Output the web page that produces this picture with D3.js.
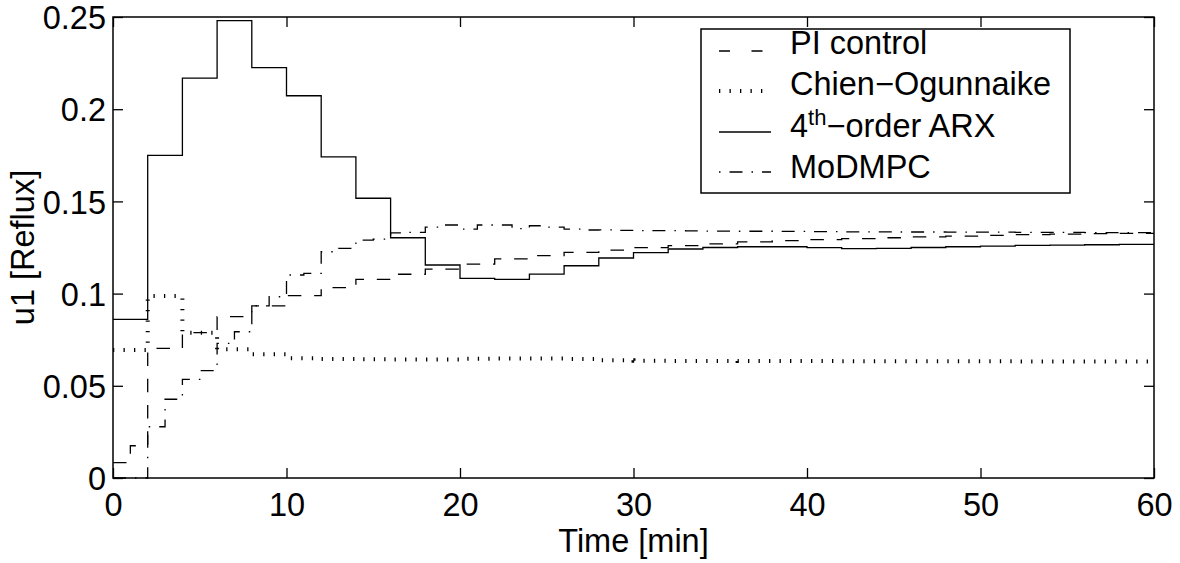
<!DOCTYPE html>
<html><head><meta charset="utf-8">
<script src="https://cdn.jsdelivr.net/npm/d3@7"></script>
<style>
body{margin:0;background:#fff}
svg{display:block}
text{font-family:"Liberation Sans",Arial,Helvetica,sans-serif;fill:#000}
</style>
</head><body>
<svg id="chart" width="1180" height="563"></svg>
<script>
// ---------------- data ----------------
const xTicks = [0, 10, 20, 30, 40, 50, 60];
const xTickLabels = ["0", "10", "20", "30", "40", "50", "60"];
const yTicks = [0, 0.05, 0.1, 0.15, 0.2, 0.25];
const yTickLabels = ["0", "0.05", "0.1", "0.15", "0.2", "0.25"];
const seriesNames = ["PI control", "Chien\u2212Ogunnaike", "4th\u2212order ARX", "MoDMPC"];
const xLabel = "Time [min]";
const yLabel = "u1 [Reflux]";
const tEnd = 60;

// PI control (step start times / held values)
const piTime  = [0, 1, 2, 4, 6, 8, 10, 12, 14, 16, 18, 20, 22, 24, 26, 28, 30, 32, 34, 36, 38, 40, 42, 44, 46, 48, 50, 52, 54, 56, 58];
const piValue = [0.0083, 0.0175, 0.0703, 0.0788, 0.0875, 0.0933, 0.0989, 0.1032, 0.1077, 0.1105, 0.1133, 0.1160, 0.1188, 0.1206, 0.1224, 0.1236, 0.1249, 0.1260, 0.1270, 0.1280, 0.1287, 0.1293, 0.1298, 0.1303, 0.1308, 0.1312, 0.1316, 0.1320, 0.1323, 0.1325, 0.1327];

// Chien-Ogunnaike
const coTime  = [0, 2, 4, 6, 8, 10, 12, 14, 16, 18, 20, 22, 24, 26, 28, 30, 32, 34, 36, 38, 40, 42, 44, 46, 48, 50, 52, 54, 56, 58];
const coValue = [0.0694, 0.0987, 0.0788, 0.0698, 0.0671, 0.0650, 0.0646, 0.0644, 0.0643, 0.0643, 0.0647, 0.0648, 0.0648, 0.0646, 0.0638, 0.0636, 0.0635, 0.0635, 0.0634, 0.0634, 0.0634, 0.0633, 0.0633, 0.0633, 0.0633, 0.0633, 0.0632, 0.0632, 0.0632, 0.0632];

// 4th-order ARX
const arxTime  = [0, 2, 4, 6, 8, 10, 12, 14, 16, 18, 20, 22, 24, 26, 28, 30, 32, 34, 36, 38, 40, 42, 44, 46, 48, 50, 52, 54, 56, 58];
const arxValue = [0.0860, 0.1750, 0.2168, 0.2480, 0.2225, 0.2073, 0.1742, 0.1517, 0.1303, 0.1155, 0.1083, 0.1077, 0.1106, 0.1151, 0.1193, 0.1222, 0.1242, 0.1250, 0.1254, 0.1254, 0.1249, 0.1244, 0.1245, 0.1250, 0.1254, 0.1258, 0.1262, 0.1263, 0.1265, 0.1267];

// MoDMPC (1-min steps)
const mpcTime  = [0,1,2,3,4,5,6,7,8,9,10,11,12,13,14,15,16,17,18,19,20,21,22,23,24,25,26,27,28,29,30,31,32,33,34,35,36,37,38,39,40,41,42,43,44,45,46,47,48,49,50,51,52,53,54,55,56,57,58,59];
const mpcValue = [0, 0, 0.0278, 0.0427, 0.0535, 0.0582, 0.0730, 0.0793, 0.0933, 0.0983, 0.1101, 0.1110, 0.1227, 0.1245, 0.1290, 0.1295, 0.1329, 0.1332, 0.1360, 0.1372, 0.1350, 0.1372, 0.1372, 0.1352, 0.1368, 0.1360, 0.1350, 0.1345, 0.1346, 0.1343, 0.1342, 0.1341, 0.1341, 0.1340, 0.1339, 0.1339, 0.1338, 0.1338, 0.1337, 0.1337, 0.1336, 0.1336, 0.1335, 0.1335, 0.1335, 0.1334, 0.1334, 0.1334, 0.1333, 0.1333, 0.1333, 0.1333, 0.1332, 0.1332, 0.1332, 0.1332, 0.1331, 0.1331, 0.1331, 0.1331];

// ---------------- layout / styles ----------------
const L = 113, R = 1154, T = 17, B = 478;
const FS = 32.5;
const styles = [
  {dash: "13.5 12.8", width: 1.3, sample: "11 21.5", sampleOffset: 0},
  {dash: "1.3 9.2", width: 4, sample: "1.3 9.2", sampleOffset: 0},
  {dash: null, width: 1.3, sample: null, sampleOffset: 0},
  {dash: "13 9 1.5 9", width: 1.3, sample: "13 9 1.5 9", sampleOffset: 22}
];

const svg = d3.select("#chart");
const x = d3.scaleLinear().domain([0, 60]).range([L, R]);
const y = d3.scaleLinear().domain([0, 0.25]).range([B, T]);

svg.append("defs").append("clipPath").attr("id", "clip")
  .append("rect").attr("x", L).attr("y", T - 1).attr("width", R - L).attr("height", B - T + 2);

function stairs(times, values) {
  const pts = times.map((t, i) => [t, values[i]]);
  pts.push([tEnd, values[values.length - 1]]);
  return pts;
}
const series = [
  stairs(piTime, piValue),
  stairs(coTime, coValue),
  stairs(arxTime, arxValue),
  stairs(mpcTime, mpcValue)
];

const line = d3.line().x(d => x(d[0])).y(d => y(d[1])).curve(d3.curveStepAfter);

const g = svg.append("g").attr("clip-path", "url(#clip)");
series.forEach((s, i) => {
  g.append("path").attr("d", line(s)).attr("fill", "none")
    .attr("stroke", "#000").attr("stroke-width", styles[i].width)
    .attr("stroke-dasharray", styles[i].dash)
    .attr("stroke-linecap", "butt");
});

// axes (MATLAB-like box with inward ticks on all sides)
const tickLen = 10;
const axB = svg.append("g").attr("transform", `translate(0,${B})`)
  .call(d3.axisBottom(x).tickValues(xTicks).tickSizeInner(-tickLen).tickSizeOuter(0)
    .tickFormat((d, i) => xTickLabels[i]).tickPadding(15));
const axT = svg.append("g").attr("transform", `translate(0,${T})`)
  .call(d3.axisTop(x).tickValues(xTicks).tickSizeInner(-tickLen).tickSizeOuter(0).tickFormat(""));
const axL = svg.append("g").attr("transform", `translate(${L},0)`)
  .call(d3.axisLeft(y).tickValues(yTicks).tickSizeInner(-tickLen).tickSizeOuter(0)
    .tickFormat((d, i) => yTickLabels[i]).tickPadding(7));
const axR = svg.append("g").attr("transform", `translate(${R},0)`)
  .call(d3.axisRight(y).tickValues(yTicks).tickSizeInner(-tickLen).tickSizeOuter(0).tickFormat(""));
[axB, axT, axL, axR].forEach(a => {
  a.selectAll(".domain").remove();
  a.selectAll("line").attr("stroke", "#000").attr("stroke-width", 1.3);
  a.selectAll("text").attr("font-size", FS).attr("font-family", "Liberation Sans, Arial, sans-serif").attr("fill", "#000");
});
axB.selectAll("text").attr("dy", "0.71em");
axL.selectAll("text").attr("dy", "0.36em");

svg.append("rect").attr("x", L).attr("y", T).attr("width", R - L).attr("height", B - T)
  .attr("fill", "none").attr("stroke", "#000").attr("stroke-width", 1.5);

// axis labels
svg.append("text").attr("x", (L + R) / 2).attr("y", 552).attr("text-anchor", "middle")
  .attr("font-size", FS).text(xLabel);
svg.append("text").attr("transform", `translate(33.5,${(T + B) / 2}) rotate(-90)`)
  .attr("text-anchor", "middle").attr("font-size", FS).text(yLabel);

// legend
const lg = svg.append("g");
lg.append("rect").attr("x", 701).attr("y", 29).attr("width", 369).attr("height", 164)
  .attr("fill", "#fff").attr("stroke", "#000").attr("stroke-width", 1.5);
const sampleY = [51, 91, 132, 172];
const textY = [54, 95, 137, 178];
seriesNames.forEach((name, i) => {
  lg.append("line").attr("x1", 719).attr("x2", 771).attr("y1", sampleY[i]).attr("y2", sampleY[i])
    .attr("stroke", "#000").attr("stroke-width", styles[i].width)
    .attr("stroke-dasharray", styles[i].sample)
    .attr("stroke-dashoffset", styles[i].sampleOffset);
  const t = lg.append("text").attr("x", 790).attr("y", textY[i]).attr("font-size", FS);
  if (name.startsWith("4th")) {
    t.append("tspan").text("4");
    t.append("tspan").attr("font-size", 22).attr("dy", -12).text("th");
    t.append("tspan").attr("dy", 12).text(name.slice(3));
  } else {
    t.text(name);
  }
});
</script>
</body></html>
